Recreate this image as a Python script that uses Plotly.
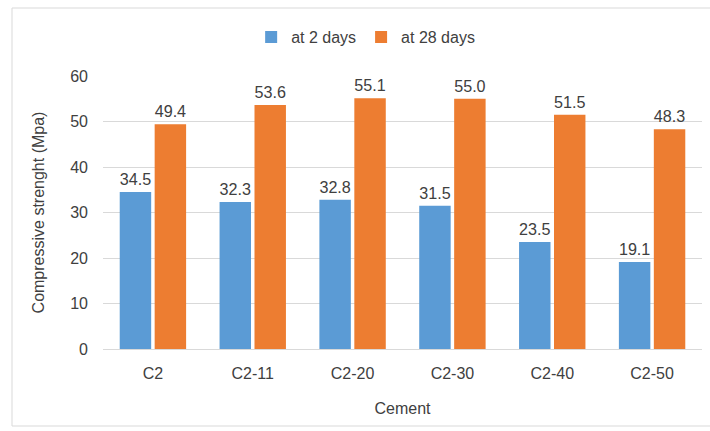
import plotly.graph_objects as go

categories = ["C2", "C2-11", "C2-20", "C2-30", "C2-40", "C2-50"]
day2 = [34.5, 32.3, 32.8, 31.5, 23.5, 19.1]
day28 = [49.4, 53.6, 55.1, 55.0, 51.5, 48.3]
y_ticks = [0, 10, 20, 30, 40, 50, 60]

font_family = "Liberation Sans, Arial, sans-serif"
txt_color = "#404040"

L, R, T, B = 103, 8, 76, 82
W, H = 710, 431
pw, ph = W - L - R, H - T - B

fig = go.Figure()
fig.add_trace(go.Bar(
    x=categories, y=day2, name="at 2 days",
    marker=dict(color="#5B9BD5", line=dict(width=0)),
    text=[f"{v:.1f}" for v in day2], textposition="outside",
    textfont=dict(size=17, color=txt_color, family=font_family),
    cliponaxis=False,
))
fig.add_trace(go.Bar(
    x=categories, y=day28, name="at 28 days",
    marker=dict(color="#ED7D31", line=dict(width=0)),
    text=[f"{v:.1f}" for v in day28], textposition="outside",
    textfont=dict(size=17, color=txt_color, family=font_family),
    cliponaxis=False,
))

fig.update_layout(
    width=W, height=H,
    margin=dict(l=L, r=R, t=T, b=B, autoexpand=False),
    paper_bgcolor="white", plot_bgcolor="white",
    barmode="group", bargap=0.30, bargroupgap=0.1,
    font=dict(family=font_family, size=16, color=txt_color),
    legend=dict(orientation="h", x=0.515, xanchor="center", xref="container",
                y=(H - 37) / H, yanchor="middle", yref="container",
                font=dict(size=16, color=txt_color),
                itemwidth=30, tracegroupgap=0),
    showlegend=True,
    shapes=[dict(type="rect", xref="paper", yref="paper",
                 x0=(12 - L) / pw, x1=(W + 5 - L) / pw,
                 y0=((H - 426) - B) / ph, y1=(H - 8 - B) / ph,
                 line=dict(color="#d9d9d9", width=1), fillcolor="rgba(0,0,0,0)",
                 layer="below")],
)

fig.update_xaxes(
    title=dict(text="Cement", font=dict(size=16, color=txt_color), standoff=21),
    tickfont=dict(size=16, color=txt_color),
    showline=True, linecolor="#d9d9d9", linewidth=1,
    ticks="", showgrid=False, automargin=False, ticklabelstandoff=10,
)
fig.update_yaxes(
    title=dict(text="Compressive strenght (Mpa)", font=dict(size=16, color=txt_color), standoff=21),
    tickfont=dict(size=16, color=txt_color),
    range=[0, 60], tickvals=y_ticks,
    showgrid=True, gridcolor="#d9d9d9", gridwidth=1,
    zeroline=True, zerolinecolor="#d9d9d9", zerolinewidth=1,
    showline=False, ticks="", automargin=False, ticklabelstandoff=14,
)

fig.write_html("out.html", config={"displayModeBar": False},
               post_script="document.body.style.margin='0';")
